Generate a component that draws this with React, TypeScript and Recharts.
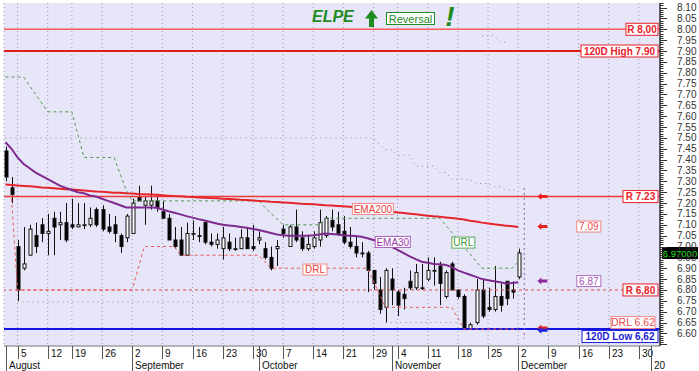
import React from 'react';
import {
  ComposedChart,
  Bar,
  Line,
  XAxis,
  YAxis,
  CartesianGrid,
  ReferenceLine,
  ReferenceDot,
} from 'recharts';

const FONT = '"Liberation Sans", Arial, Helvetica, sans-serif';

// ---- OHLC candles (trading-day index 0 = 1 Aug 2013 ... 85 = 2 Dec 2013)
const opens = [
  7.44, 7.27, 7.0, 6.9, 6.96, 7.05, 7.1, 7.06, 7.13, 7.1,
  7.11, 7.1, 7.09, 7.1, 7.1, 7.17, 7.17, 7.09, 7.1, 7.05,
  7.04, 7.06, 7.23, 7.19, 7.19, 7.21, 7.16, 7.13, 7.03, 7.03,
  6.96, 7.06, 7.05, 7.11, 7.02, 7.01, 6.99, 7.02, 6.99, 6.99,
  7.04, 7.0, 7.03, 6.99, 6.95, 6.99, 7.08, 7.0, 7.09, 7.04,
  6.99, 7.0, 7.03, 7.05, 7.12, 7.1, 7.07, 7.02, 7.0, 6.97,
  6.97, 6.89, 6.8, 6.72, 6.85, 6.79, 6.78, 6.84, 6.81, 6.81,
  6.85, 6.89, 6.91, 6.77, 6.92, 6.8, 6.77, 6.62, 6.65, 6.8,
  6.72, 6.71, 6.77, 6.84, 6.8, 6.86,
];
const highs = [
  7.46, 7.32, 7.03, 7.09, 7.1, 7.11, 7.13, 7.15, 7.16, 7.16,
  7.2, 7.22, 7.2, 7.2, 7.18, 7.18, 7.19, 7.15, 7.14, 7.06,
  7.15, 7.22, 7.28, 7.23, 7.28, 7.23, 7.21, 7.15, 7.09, 7.09,
  7.11, 7.12, 7.09, 7.11, 7.06, 7.06, 7.09, 7.06, 7.04, 7.08,
  7.09, 7.1, 7.07, 7.02, 7.0, 7.03, 7.1, 7.1, 7.17, 7.07,
  7.05, 7.07, 7.17, 7.14, 7.17, 7.16, 7.14, 7.09, 7.05, 7.02,
  6.98, 6.89, 6.86, 6.9, 6.9, 6.8, 6.81, 6.89, 6.92, 6.92,
  6.95, 6.95, 6.93, 6.89, 6.93, 6.8, 6.78, 6.65, 6.85, 6.85,
  6.81, 6.91, 6.83, 6.84, 6.84, 6.99,
];
const lows = [
  7.3, 7.2, 6.75, 6.89, 6.96, 6.97, 7.02, 6.96, 6.96, 7.03,
  7.02, 7.08, 7.09, 7.08, 7.09, 7.09, 7.07, 7.06, 7.02, 6.97,
  7.02, 7.06, 7.21, 7.1, 7.17, 7.16, 7.13, 7.03, 6.99, 6.96,
  6.96, 7.03, 7.02, 7.01, 7.0, 6.99, 6.94, 6.98, 6.98, 6.99,
  6.99, 6.98, 7.01, 6.94, 6.89, 6.91, 7.04, 7.0, 7.02, 6.98,
  6.98, 6.99, 7.0, 7.04, 7.07, 7.05, 7.01, 6.99, 6.95, 6.95,
  6.79, 6.8, 6.69, 6.65, 6.73, 6.68, 6.71, 6.8, 6.8, 6.8,
  6.84, 6.82, 6.73, 6.76, 6.8, 6.76, 6.62, 6.62, 6.64, 6.67,
  6.7, 6.7, 6.7, 6.73, 6.76, 6.85,
];
const closes = [
  7.32, 7.24, 6.8, 6.92, 7.08, 7.0, 7.06, 7.07, 7.09, 7.11,
  7.03, 7.09, 7.1, 7.1, 7.13, 7.1, 7.08, 7.07, 7.06, 7.0,
  7.14, 7.2, 7.21, 7.21, 7.21, 7.18, 7.13, 7.03, 7.0, 6.96,
  7.06, 7.06, 7.05, 7.02, 7.01, 7.03, 7.04, 6.99, 6.99, 7.04,
  6.99, 6.99, 7.04, 6.95, 6.9, 7.0, 7.06, 7.09, 7.03, 6.99,
  7.01, 7.04, 7.11, 7.13, 7.09, 7.06, 7.02, 7.0, 6.97, 6.97,
  6.89, 6.83, 6.71, 6.89, 6.8, 6.73, 6.76, 6.81, 6.88, 6.81,
  6.89, 6.89, 6.83, 6.88, 6.8, 6.77, 6.62, 6.64, 6.8, 6.68,
  6.71, 6.77, 6.73, 6.76, 6.79, 6.97,
];

// ---- moving averages
const ema30 = [
  7.48, 7.45, 7.41, 7.38, 7.36, 7.34, 7.325, 7.31, 7.295, 7.28,
  7.27, 7.26, 7.25, 7.245, 7.235, 7.23, 7.22, 7.21, 7.2, 7.19,
  7.18, 7.18, 7.18, 7.18, 7.18, 7.178, 7.17, 7.162, 7.155, 7.148,
  7.14, 7.133, 7.126, 7.12, 7.113, 7.106, 7.1, 7.097, 7.094, 7.09,
  7.086, 7.081, 7.076, 7.069, 7.062, 7.055, 7.052, 7.05, 7.05, 7.05,
  7.05, 7.052, 7.055, 7.06, 7.058, 7.055, 7.052, 7.05, 7.048, 7.045,
  7.038, 7.03, 7.02, 7.01, 6.998, 6.985, 6.97, 6.955, 6.942, 6.93,
  6.925, 6.92, 6.918, 6.915, 6.905, 6.89, 6.88, 6.87, 6.86, 6.85,
  6.845, 6.84, 6.835, 6.83, 6.832, 6.835,
];
const ema200 = [
  7.285, 7.283, 7.281, 7.279, 7.277, 7.275, 7.272, 7.27, 7.268, 7.266,
  7.264, 7.262, 7.26, 7.258, 7.255, 7.253, 7.252, 7.25, 7.248, 7.247,
  7.245, 7.244, 7.242, 7.241, 7.24, 7.238, 7.236, 7.234, 7.232, 7.231,
  7.229, 7.228, 7.226, 7.225, 7.223, 7.222, 7.22, 7.219, 7.217, 7.215,
  7.214, 7.212, 7.21, 7.208, 7.206, 7.205, 7.203, 7.201, 7.199, 7.197,
  7.196, 7.194, 7.192, 7.19, 7.189, 7.187, 7.185, 7.183, 7.181, 7.179,
  7.177, 7.174, 7.17, 7.165, 7.16, 7.157, 7.154, 7.151, 7.148, 7.145,
  7.142, 7.139, 7.137, 7.134, 7.131, 7.128, 7.124, 7.119, 7.115, 7.11,
  7.106, 7.102, 7.099, 7.096, 7.093, 7.09,
];

// ---- trend / resistance lines as [dayIndex, price] anchors
const urlPts: [number, number][] = [
  [0, 7.78], [3, 7.78], [7, 7.62], [11, 7.62], [13, 7.41], [18, 7.41], [20, 7.26],
  [21, 7.21], [42, 7.21], [43, 7.18], [46, 7.1], [52, 7.1], [53, 7.13], [72, 7.13],
  [79, 6.9], [84, 6.9], [85, 6.93],
];
const drlPts: [number, number][] = [
  [1, 7.22], [2, 6.8], [21, 6.8], [23, 7.0], [28, 7.0], [29, 6.96], [42, 6.96],
  [44, 6.9], [60, 6.9], [63, 6.72], [74, 6.72], [76, 6.62], [85, 6.62],
];
const upperDotPts: [number, number][] = [
  [0, 7.5], [61, 7.5], [62, 7.47], [63, 7.445], [64, 7.445], [65, 7.42], [67, 7.42],
  [68, 7.37], [71, 7.37], [72, 7.34], [73, 7.34], [74, 7.31], [77, 7.31], [78, 7.29],
  [80, 7.29], [81, 7.275], [82, 7.275], [83, 7.26], [85, 7.26],
];
const topDotPts: [number, number][] = [[79, 7.97], [81, 7.97], [82, 7.94], [83, 7.94]];
const lowDotAPts: [number, number][] = [[2, 6.745], [61, 6.745]];
const lowDotBPts: [number, number][] = [[63, 6.65], [75, 6.65]];

// ---- axis ticks / labels
const weekIdx = [2, 7, 11, 16, 21, 26, 31, 36, 41, 46, 51, 56, 61, 65, 70, 75, 80, 85, 90, 95, 100, 105];
const weekLabels = ['5', '12', '19', '26', '2', '9', '16', '23', '30', '7', '14', '21', '29', '4', '11', '18', '25', '2', '9', '16', '23', '30'];
const monthIdx = [0, 21, 42, 64, 85, 107];
const monthLabels = ['August', 'September', 'October', 'November', 'December', '20'];
const yLabels = [
  '6.60', '6.65', '6.70', '6.75', '6.80', '6.85', '6.90', '6.95', '7.00', '7.05', '7.10',
  '7.15', '7.20', '7.25', '7.30', '7.35', '7.40', '7.45', '7.50', '7.55', '7.60', '7.65',
  '7.70', '7.75', '7.80', '7.85', '7.90', '7.95', '8.00', '8.05', '8.10',
];

const X_MIN = -0.25;
const X_MAX = 108.5;
const Y_MIN = 6.542;
const Y_MAX = 8.121;

const yTicks: number[] = [];
for (let k = 655; k <= 812; k++) yTicks.push(k / 100);

type Row = Record<string, any>;
const data: Row[] = opens.map((o, i) => ({
  i,
  o,
  h: highs[i],
  l: lows[i],
  c: closes[i],
  range: [lows[i], highs[i]],
  ema30: ema30[i],
  ema200: ema200[i],
}));
const addPts = (key: string, pts: [number, number][]) =>
  pts.forEach(([i, v]) => {
    data[i][key] = v;
  });
addPts('url', urlPts);
addPts('drl', drlPts);
addPts('upDot', upperDotPts);
addPts('topDot', topDotPts);
addPts('lowA', lowDotAPts);
addPts('lowB', lowDotBPts);

const Candle = (props: any) => {
  const { x, y, width, height, payload } = props;
  if (!payload || payload.o == null || x == null) return null;
  const { o, h, l, c } = payload;
  const ya = y;
  const yb = y + height;
  const yHigh = Math.min(ya, yb);
  const yLow = Math.max(ya, yb);
  const sc = (v: number) => yHigh + ((yLow - yHigh) * (h - v)) / (h - l || 1);
  const cx = Math.round(x + width / 2) + 0.5;
  const yo = sc(o);
  const yc = sc(c);
  const top = Math.min(yo, yc);
  const bot = Math.max(yo, yc);
  const up = c >= o;
  return (
    <g>
      <line x1={cx} x2={cx} y1={yHigh} y2={yLow} stroke="#111" strokeWidth={1} />
      <rect
        x={cx - 1.5}
        y={top}
        width={3}
        height={Math.max(bot - top, 0.8)}
        fill={up ? '#ffffff' : '#000000'}
        stroke="#111"
        strokeWidth={1}
      />
    </g>
  );
};

type TagProps = {
  cx?: number;
  cy?: number;
  text: string;
  color: string;
  border?: string;
  bold?: boolean;
  w: number;
  h?: number;
  anchor: 'right' | 'center';
  dx?: number;
  dy?: number;
  size?: number;
};
const Tag = (p: TagProps) => {
  const h = p.h ?? 12;
  const size = p.size ?? 10;
  const cx = (p.cx ?? 0) + (p.dx ?? 0);
  const cy = (p.cy ?? 0) + (p.dy ?? 0);
  const left = p.anchor === 'right' ? cx - p.w : cx - p.w / 2;
  return (
    <g>
      <rect x={left} y={cy - h / 2} width={p.w} height={h} fill="#ffffff" stroke={p.border ?? p.color} strokeWidth={1} />
      <text
        x={left + p.w / 2}
        y={cy + size * 0.36}
        textAnchor="middle"
        fontFamily={FONT}
        fontSize={size}
        fontWeight={p.bold ? 'bold' : 'normal'}
        fill={p.color}
      >
        {p.text}
      </text>
    </g>
  );
};

const Arrow = ({ cx, cy, color }: { cx?: number; cy?: number; color: string }) => {
  const x = cx ?? 0;
  const y = cy ?? 0;
  const pts = [
    [x - 5, y],
    [x - 1, y - 3.5],
    [x - 1, y - 1.5],
    [x + 5, y - 1.5],
    [x + 5, y + 1.5],
    [x - 1, y + 1.5],
    [x - 1, y + 3.5],
  ]
    .map((q) => q.join(','))
    .join(' ');
  return <polygon points={pts} fill={color} />;
};

const YTick = (props: any) => {
  const { x, y, payload } = props;
  const k = Math.round(payload.value * 100);
  const major = k % 5 === 0;
  const label = major ? yLabels.find((s) => Math.round(parseFloat(s) * 100) === k) : undefined;
  const yy = Math.round(y) + 0.5;
  return (
    <g>
      <line x1={x} x2={x + (major ? 7 : 3.5)} y1={yy} y2={yy} stroke="#333" strokeWidth={1} />
      {label ? (
        <text x={x + 17} y={y + 3.5} fontFamily={FONT} fontSize={10} fill="#333">
          {label}
        </text>
      ) : null}
    </g>
  );
};

const DayTick = (props: any) => {
  const { x, y, payload } = props;
  const idx = weekIdx.indexOf(payload.value);
  if (idx < 0) return null;
  const xx = Math.round(x) + 0.5;
  return (
    <g>
      <line x1={xx} x2={xx} y1={y} y2={y + 13} stroke="#555" strokeWidth={1} />
      <text x={xx + 2.5} y={y + 10.5} fontFamily={FONT} fontSize={10} fill="#111">
        {weekLabels[idx]}
      </text>
    </g>
  );
};

const MonthTick = (props: any) => {
  const { x, y, payload } = props;
  const idx = monthIdx.indexOf(payload.value);
  if (idx < 0) return null;
  const xx = Math.round(x) + 0.5;
  return (
    <g>
      <line x1={xx} x2={xx} y1={y - 13} y2={y + 12} stroke="#555" strokeWidth={1} />
      <text x={xx + 2.5} y={y + 10} fontFamily={FONT} fontSize={10} fill="#111">
        {monthLabels[idx]}
      </text>
    </g>
  );
};

const lineTag = (y: number, tag: Omit<TagProps, 'cx' | 'cy' | 'anchor'>, key: string) => (
  <ReferenceDot
    key={key}
    x={X_MAX}
    y={y}
    r={0}
    ifOverflow="visible"
    shape={(sp: any) => <Tag cx={sp.cx} cy={sp.cy} anchor="right" dx={-2} {...tag} />}
  />
);

const midTag = (x: number, y: number, tag: Omit<TagProps, 'cx' | 'cy' | 'anchor'>, key: string) => (
  <ReferenceDot
    key={key}
    x={x}
    y={y}
    r={0}
    ifOverflow="visible"
    shape={(sp: any) => <Tag cx={sp.cx} cy={sp.cy} anchor="center" {...tag} />}
  />
);

const arrowAt = (x: number, y: number, color: string, key: string) => (
  <ReferenceDot key={key} x={x} y={y} r={0} ifOverflow="visible" shape={(sp: any) => <Arrow cx={sp.cx} cy={sp.cy} color={color} />} />
);

export default function App() {
  const green = '#1E8C1E';
  return (
    <div style={{ position: 'absolute', left: 0, top: 0, width: 699, height: 371, background: '#ffffff' }}>
      <ComposedChart width={699} height={371} data={data} margin={{ top: 3, right: 0, bottom: 0, left: 4 }}>
        <CartesianGrid horizontal={false} vertical stroke="#9A9AB4" strokeDasharray="1 3" fill="#E6E6F8" />
        <XAxis
          dataKey="i"
          type="number"
          domain={[X_MIN, X_MAX]}
          allowDataOverflow
          ticks={weekIdx}
          interval={0}
          tickSize={0}
          tickMargin={0}
          height={13}
          axisLine={{ stroke: '#777' }}
          tick={<DayTick />}
        />
        <XAxis
          xAxisId="m"
          dataKey="i"
          type="number"
          domain={[X_MIN, X_MAX]}
          allowDataOverflow
          ticks={monthIdx}
          interval={0}
          tickSize={0}
          tickMargin={0}
          height={12}
          axisLine={false}
          tick={<MonthTick />}
        />
        <YAxis
          orientation="right"
          type="number"
          domain={[Y_MIN, Y_MAX]}
          allowDataOverflow
          ticks={yTicks}
          interval={0}
          tickSize={0}
          tickMargin={0}
          width={39}
          axisLine={{ stroke: '#333', strokeWidth: 1.5 }}
          tick={<YTick />}
        />

        <ReferenceLine y={8.0} stroke="#FF5B5B" strokeWidth={1.5} />
        <ReferenceLine y={7.9} stroke="#E41B1B" strokeWidth={2} />
        <ReferenceLine y={7.23} stroke="#F03A3A" strokeWidth={1.5} />
        <ReferenceLine y={6.8} stroke="#E04848" strokeWidth={1} strokeDasharray="3 3" />
        <ReferenceLine y={6.62} stroke="#1515E0" strokeWidth={2} />
        <ReferenceLine
          segment={[
            { x: 86, y: 7.27 },
            { x: 86, y: 6.575 },
          ]}
          stroke="#8A5AA0"
          strokeDasharray="2 3"
        />

        <Line dataKey="upDot" stroke="#8A8A8A" strokeWidth={1} strokeDasharray="1 4" dot={false} activeDot={false} connectNulls isAnimationActive={false} />
        <Line dataKey="topDot" stroke="#8A8A8A" strokeWidth={1} strokeDasharray="1 4" dot={false} activeDot={false} connectNulls isAnimationActive={false} />
        <Line dataKey="lowA" stroke="#8A8A8A" strokeWidth={1} strokeDasharray="1 4" dot={false} activeDot={false} connectNulls isAnimationActive={false} />
        <Line dataKey="lowB" stroke="#8A8A8A" strokeWidth={1} strokeDasharray="1 4" dot={false} activeDot={false} connectNulls isAnimationActive={false} />
        <Line dataKey="url" stroke="#4E9A4E" strokeWidth={1} strokeDasharray="3 3" dot={false} activeDot={false} connectNulls isAnimationActive={false} />
        <Line dataKey="drl" stroke="#E85A5A" strokeWidth={1} strokeDasharray="3 3" dot={false} activeDot={false} connectNulls isAnimationActive={false} />

        <Bar dataKey="range" barSize={5} shape={<Candle />} isAnimationActive={false} />

        <Line dataKey="ema200" stroke="#E4262A" strokeWidth={2} dot={false} activeDot={false} isAnimationActive={false} />
        <Line dataKey="ema30" stroke="#7E2A8E" strokeWidth={2} dot={false} activeDot={false} isAnimationActive={false} />

        {lineTag(8.0, { text: 'R 8,00', color: '#E8202A', bold: true, w: 32 }, 't1')}
        {lineTag(7.9, { text: '120D High 7.90', color: '#E8202A', bold: true, w: 77 }, 't2')}
        {lineTag(7.23, { text: 'R 7.23', color: '#E8202A', bold: true, w: 35 }, 't3')}
        {lineTag(6.8, { text: 'R 6,80', color: '#E8202A', bold: true, w: 35 }, 't4')}
        {lineTag(6.62, { text: '120D Low 6,62', color: '#1A1AD8', bold: true, w: 76, dy: 7.5 }, 't5')}
        {lineTag(6.62, { text: 'DRL 6.62', color: '#F04848', border: '#F08888', w: 44, dx: -5, dy: -6.5, size: 10.5 }, 't6')}

        {midTag(60.9, 7.173, { text: 'EMA200', color: '#E83A3A', border: '#F08888', w: 41, h: 11 }, 'm1')}
        {midTag(64.2, 7.021, { text: 'EMA30', color: '#9A3AAE', border: '#A860B8', w: 35, h: 11 }, 'm2')}
        {midTag(75.9, 7.018, { text: 'URL', color: '#3A9A3A', border: '#5AAA5A', w: 23, h: 11 }, 'm3')}
        {midTag(51.3, 6.894, { text: 'DRL', color: '#E83A3A', border: '#F08888', w: 24, h: 11 }, 'm4')}
        {midTag(96.7, 7.092, { text: '7.09', color: '#F04848', border: '#F08888', w: 24, h: 11 }, 'm5')}
        {midTag(96.7, 6.841, { text: '6.87', color: '#A050B8', border: '#B070C0', w: 24, h: 11 }, 'm6')}

        {arrowAt(89, 7.23, '#E82020', 'a1')}
        {arrowAt(89, 7.092, '#E82020', 'a2')}
        {arrowAt(89, 6.841, '#8A2A9A', 'a3')}
        {arrowAt(89, 6.625, '#E82020', 'a4')}
        {arrowAt(89, 6.615, '#2020E0', 'a5')}

        <ReferenceDot
          x={X_MAX}
          y={6.97}
          r={0}
          ifOverflow="visible"
          shape={(sp: any) => (
            <g>
              <rect x={sp.cx + 2} y={sp.cy - 6} width={36} height={12} fill="#000000" />
              <text x={sp.cx + 20} y={sp.cy + 3.5} textAnchor="middle" fontFamily={FONT} fontSize={9.5} fill="#22E022">
                6.97000
              </text>
            </g>
          )}
        />
      </ComposedChart>

      <svg width={699} height={40} style={{ position: 'absolute', left: 0, top: 0, pointerEvents: 'none' }}>
        <text x={312} y={22} fontFamily={FONT} fontSize={16} fontWeight="bold" fontStyle="italic" fill={green}>
          ELPE
        </text>
        <polygon points="365,18.5 371.5,10 378,18.5 374,18.5 374,27 369,27 369,18.5" fill={green} />
        <rect x={386.5} y={12.5} width={48} height={12} fill="#ffffff" stroke={green} strokeWidth={1} />
        <text x={410.5} y={22.5} textAnchor="middle" fontFamily={FONT} fontSize={11} fill={green}>
          Reversal
        </text>
        <text x={450} y={26} textAnchor="middle" fontFamily={FONT} fontSize={28} fontWeight="bold" fontStyle="italic" fill={green}>
          !
        </text>
      </svg>
    </div>
  );
}
